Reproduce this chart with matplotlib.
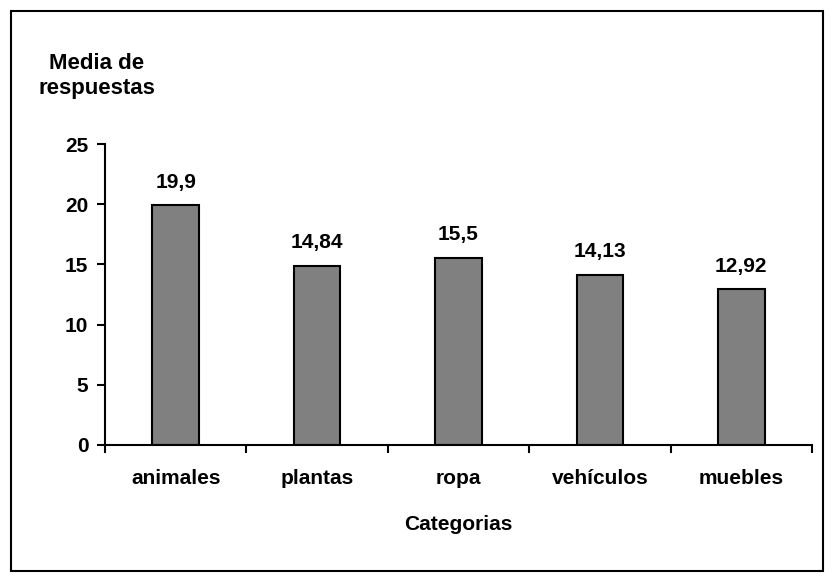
import matplotlib.pyplot as plt
from matplotlib.patches import Rectangle

categorias = ['animales', 'plantas', 'ropa', 'vehículos', 'muebles']
medias = [19.9, 14.84, 15.5, 14.13, 12.92]
etiquetas = ['19,9', '14,84', '15,5', '14,13', '12,92']

plt.rcParams['font.family'] = ['Liberation Sans', 'DejaVu Sans']
plt.rcParams['font.weight'] = 'bold'
plt.rcParams['font.size'] = 15

fig = plt.figure(figsize=(8.34, 5.82), dpi=100)
ax = fig.add_axes([105/834, 1 - 445/582, 707/834, 301/582])

x = range(len(categorias))
bars = ax.bar(x, medias, width=0.33, color='#808080', edgecolor='black', linewidth=1.5)
for bar, txt in zip(bars, etiquetas):
    ax.annotate(txt, (bar.get_x() + bar.get_width() / 2, bar.get_height()),
                xytext=(0, 10), textcoords='offset points', ha='center', va='bottom',
                fontsize=15, fontweight='bold')

ax.set_xlim(-0.5, len(categorias) - 0.5)
ax.set_ylim(0, 25)
ax.set_yticks(range(0, 26, 5))
# major ticks sit between categories, names go on minor ticks
ax.set_xticks([i + 0.5 for i in range(-1, len(categorias))])
ax.set_xticklabels([])
ax.set_xticks(list(x), minor=True)
ax.set_xticklabels(categorias, minor=True)
ax.tick_params(axis='x', which='major', direction='out', length=6, width=1.5)
ax.tick_params(axis='x', which='minor', length=0, pad=17)
ax.tick_params(axis='y', direction='out', length=6, width=1.5, pad=6)

for s in ['top', 'right']:
    ax.spines[s].set_visible(False)
for s in ['left', 'bottom']:
    ax.spines[s].set_linewidth(1.5)

ax.set_xlabel('Categorias', fontsize=15, fontweight='bold', labelpad=20)
fig.text(97/834, 1 - 76/582, 'Media de\nrespuestas', ha='center', va='center',
         fontsize=16, fontweight='bold', linespacing=1.2)

fig.patches.append(Rectangle((11/834, 11/582), 812/834, 560/582, transform=fig.transFigure,
                             fill=False, edgecolor='black', linewidth=1.5))

fig.savefig('out.png', dpi=100)
